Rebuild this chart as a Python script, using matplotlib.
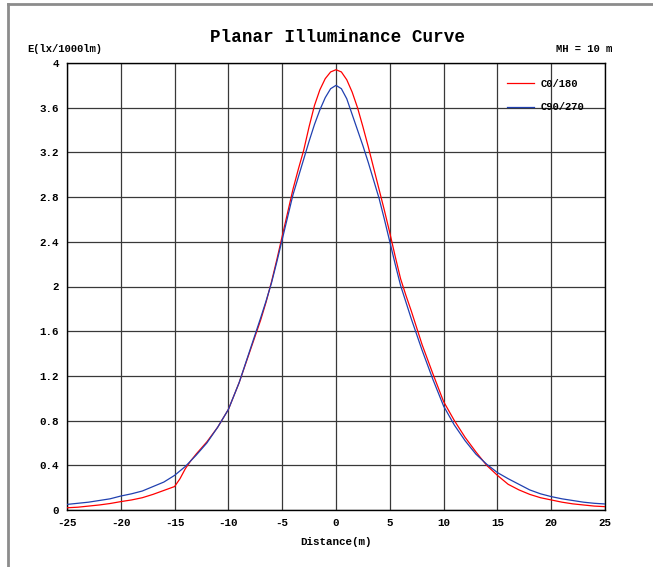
import matplotlib
matplotlib.use("Agg")
import matplotlib.pyplot as plt
from matplotlib.lines import Line2D

plt.rcParams['axes.unicode_minus'] = False
FONT = ['Liberation Mono', 'DejaVu Sans Mono']

# Data
distance = [-25, -24, -23, -22, -21, -20, -19, -18, -17, -16, -15, -14.5, -14, -13.5, -13, -12, -11,
            -10, -9, -8, -7, -6.5, -6, -5.5, -5, -4.5, -4, -3.5, -3, -2.5, -2, -1.5, -1, -0.5, 0,
            0.5, 1, 1.5, 2, 2.5, 3, 3.5, 4, 4.5, 5, 5.5, 6, 6.5, 7, 8, 9, 10, 11, 12, 13, 14, 15,
            16, 17, 18, 19, 20, 21, 22, 23, 24, 25]
c0_180 = [0.02, 0.025, 0.035, 0.045, 0.058, 0.075, 0.09, 0.11, 0.14, 0.175, 0.21, 0.28, 0.37, 0.44,
          0.50, 0.61, 0.74, 0.90, 1.14, 1.42, 1.70, 1.86, 2.04, 2.24, 2.45, 2.66, 2.87, 3.05, 3.22,
          3.43, 3.62, 3.76, 3.86, 3.92, 3.94, 3.92, 3.85, 3.74, 3.60, 3.43, 3.25, 3.06, 2.87, 2.68,
          2.48, 2.27, 2.07, 1.92, 1.78, 1.48, 1.22, 0.97, 0.80, 0.65, 0.52, 0.40, 0.31, 0.23, 0.18,
          0.14, 0.11, 0.09, 0.07, 0.055, 0.045, 0.035, 0.03]
c90_270 = [0.05, 0.06, 0.07, 0.085, 0.10, 0.125, 0.145, 0.17, 0.21, 0.25, 0.31, 0.35, 0.39, 0.44,
           0.49, 0.60, 0.74, 0.90, 1.14, 1.43, 1.72, 1.87, 2.03, 2.22, 2.42, 2.62, 2.82, 2.98, 3.14,
           3.30, 3.45, 3.58, 3.69, 3.77, 3.80, 3.77, 3.68, 3.54, 3.40, 3.26, 3.11, 2.95, 2.79, 2.60,
           2.40, 2.20, 2.01, 1.86, 1.71, 1.43, 1.17, 0.93, 0.76, 0.62, 0.50, 0.41, 0.335, 0.28, 0.23,
           0.18, 0.145, 0.12, 0.10, 0.085, 0.07, 0.06, 0.054]
x_ticks = [-25, -20, -15, -10, -5, 0, 5, 10, 15, 20, 25]
x_labels = ["-25", "-20", "-15", "-10", "-5", "0", "5", "10", "15", "20", "25"]
y_ticks = [0, 0.4, 0.8, 1.2, 1.6, 2.0, 2.4, 2.8, 3.2, 3.6, 4.0]
y_labels = ["0", "0.4", "0.8", "1.2", "1.6", "2", "2.4", "2.8", "3.2", "3.6", "4"]

fig = plt.figure(figsize=(6.53, 5.67), dpi=100)
ax = fig.add_axes([67/653, 57/567, (605-67)/653, (510-63)/567])

ax.plot(distance, c0_180, color='#ff0000', lw=0.9, label='C0/180', zorder=3)
ax.plot(distance, c90_270, color='#2040b0', lw=0.9, label='C90/270', zorder=3)

ax.set_xlim(-25, 25)
ax.set_ylim(0, 4)
ax.set_xticks(x_ticks)
ax.set_xticklabels(x_labels, family=FONT, fontweight='bold', fontsize=7.8)
ax.set_yticks(y_ticks)
ax.set_yticklabels(y_labels, family=FONT, fontweight='bold', fontsize=7.8)
ax.tick_params(length=0, pad=6)
ax.grid(True, color='#383838', lw=0.9)
ax.set_axisbelow(True)
for s in ax.spines.values():
    s.set_color('#000000')
    s.set_linewidth(1.0)

ax.set_xlabel('Distance(m)', family=FONT, fontweight='bold', fontsize=7.8, labelpad=6)

fig.text(338/653, 1 - 37/567, 'Planar Illuminance Curve', family=FONT, fontweight='bold',
         fontsize=12.7, ha='center', va='center')
fig.text(27/653, 1 - 49/567, 'E(lx/1000lm)', family=FONT, fontweight='bold', fontsize=7.6,
         ha='left', va='center')
fig.text(612/653, 1 - 49/567, 'MH = 10 m', family=FONT, fontweight='bold', fontsize=7.6,
         ha='right', va='center')

leg = ax.legend(loc='upper left', bbox_to_anchor=((507-67)/538, (510-79)/447), frameon=False,
                handlelength=2.6, labelspacing=1.25, borderpad=0, borderaxespad=0,
                handletextpad=0.6, prop={'family': FONT, 'weight': 'bold', 'size': 7.6})

fig.add_artist(Line2D([8/653, 8/653], [0, 1 - 4/567], transform=fig.transFigure,
                      color='#8c8c8c', lw=2))
fig.add_artist(Line2D([8/653, 1], [1 - 4/567, 1 - 4/567], transform=fig.transFigure,
                      color='#8c8c8c', lw=2))

fig.savefig('out.png', dpi=100)
